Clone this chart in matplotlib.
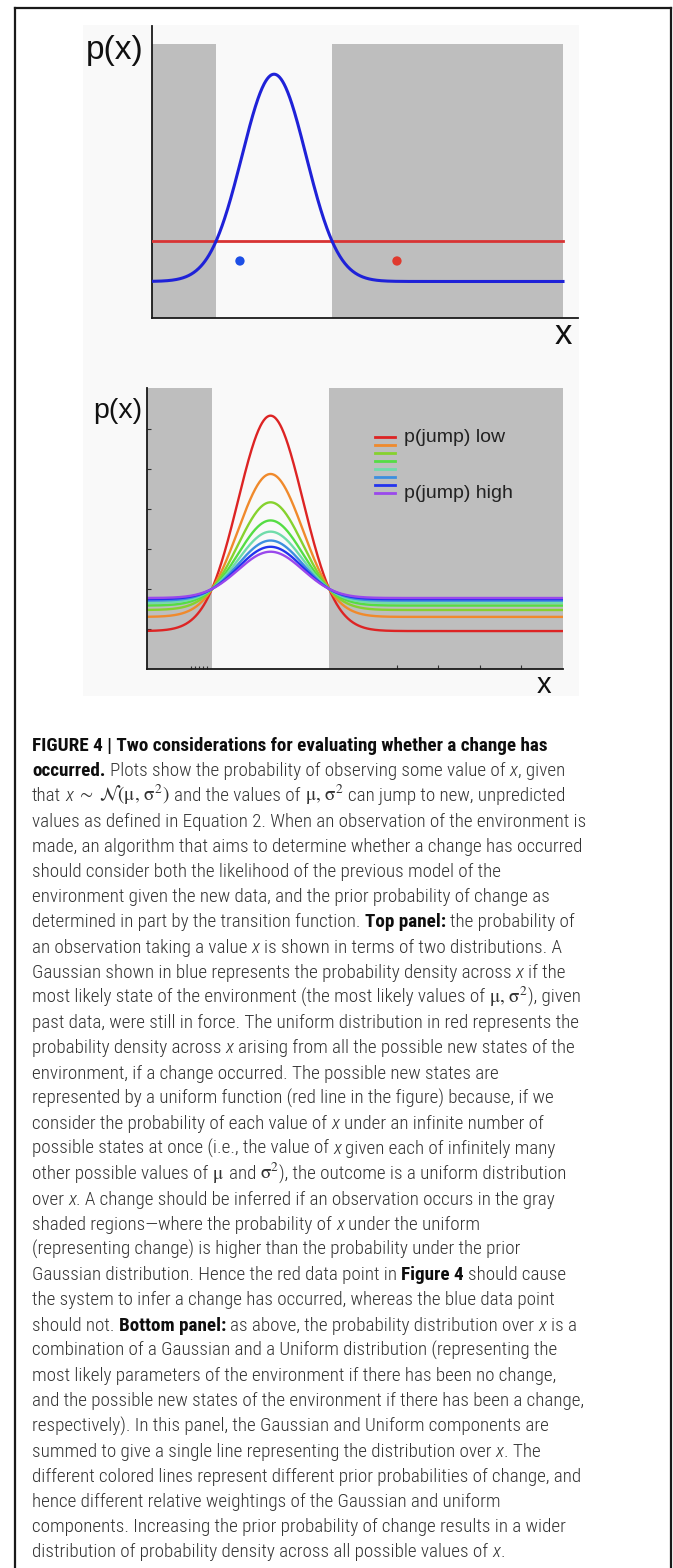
import numpy as np
import matplotlib
matplotlib.use("Agg")
import matplotlib.pyplot as plt
from matplotlib.lines import Line2D
from matplotlib.patches import Rectangle

W, H = 673, 1568

# modelo: gaussiana + uniforme sobre [0, 10]
X_MIN, X_MAX = 0.0, 10.0
MU = 2.97
SIGMA = 0.78
UNIFORME = 0.1

# painel de cima: mistura com peso da uniforme baixo + os dois pontos observados
P_JUMP_TOPO = 0.474
PONTOS_X = [2.14, 5.96]
PONTOS_Y = [0.074, 0.074]
PONTOS_COR = ["#1d4fe6", "#e03a2e"]

# painel de baixo: peso da uniforme (p(jump)) de cada curva
P_JUMP = [0.474, 0.651, 0.737, 0.792, 0.826, 0.853, 0.872, 0.887]
CORES = ["#dd2424", "#f08a2c", "#86d22e", "#55dd44", "#6fdcaa", "#3d8fdf", "#2233ee", "#9a48ec"]
LEGENDA = ["p(jump) low", "", "", "", "", "", "", "p(jump) high"]

CINZA = "#bebebe"
FONTE_EIXO = ["Liberation Sans", "DejaVu Sans"]
FONTE_TEXTO = ["Liberation Sans Narrow", "Roboto Condensed", "Roboto", "DejaVu Sans"]

MU_SIGMA = r"$\mathrm{\mu},\,\mathrm{\sigma}^2$"

LEGENDA_CAPTION = [
    [("FIGURE 4 | Two considerations for evaluating whether a change has", "b")],
    [("occurred.", "b"), (" Plots show the probability of observing some value of ", "n"), ("x", "i"), (", given", "n")],
    [("that ", "n"), ("x", "i"), (r"$\;\sim\;\mathcal{N}(\mathrm{\mu},\,\mathrm{\sigma}^2)$", "m"),
     (" and the values of ", "n"), (MU_SIGMA, "m"), (" can jump to new, unpredicted", "n")],
    [("values as defined in Equation 2. When an observation of the environment is", "n")],
    [("made, an algorithm that aims to determine whether a change has occurred", "n")],
    [("should consider both the likelihood of the previous model of the", "n")],
    [("environment given the new data, and the prior probability of change as", "n")],
    [("determined in part by the transition function. ", "n"), ("Top panel:", "b"), (" the probability of", "n")],
    [("an observation taking a value ", "n"), ("x", "i"), (" is shown in terms of two distributions. A", "n")],
    [("Gaussian shown in blue represents the probability density across ", "n"), ("x", "i"), (" if the", "n")],
    [("most likely state of the environment (the most likely values of ", "n"),
     (MU_SIGMA, "m"), ("), given", "n")],
    [("past data, were still in force. The uniform distribution in red represents the", "n")],
    [("probability density across ", "n"), ("x", "i"), (" arising from all the possible new states of the", "n")],
    [("environment, if a change occurred. The possible new states are", "n")],
    [("represented by a uniform function (red line in the figure) because, if we", "n")],
    [("consider the probability of each value of ", "n"), ("x", "i"), (" under an infinite number of", "n")],
    [("possible states at once (i.e., the value of ", "n"), ("x", "i"), (" given each of infinitely many", "n")],
    [("other possible values of ", "n"), (r"$\mathrm{\mu}$", "m"), (" and ", "n"), (r"$\mathrm{\sigma}^2$", "m"),
     ("), the outcome is a uniform distribution", "n")],
    [("over ", "n"), ("x", "i"), (". A change should be inferred if an observation occurs in the gray", "n")],
    [("shaded regions\u2014where the probability of ", "n"), ("x", "i"), (" under the uniform", "n")],
    [("(representing change) is higher than the probability under the prior", "n")],
    [("Gaussian distribution. Hence the red data point in ", "n"), ("Figure 4", "b"), (" should cause", "n")],
    [("the system to infer a change has occurred, whereas the blue data point", "n")],
    [("should not. ", "n"), ("Bottom panel:", "b"), (" as above, the probability distribution over ", "n"),
     ("x", "i"), (" is a", "n")],
    [("combination of a Gaussian and a Uniform distribution (representing the", "n")],
    [("most likely parameters of the environment if there has been no change,", "n")],
    [("and the possible new states of the environment if there has been a change,", "n")],
    [("respectively). In this panel, the Gaussian and Uniform components are", "n")],
    [("summed to give a single line representing the distribution over ", "n"), ("x", "i"), (". The", "n")],
    [("different colored lines represent different prior probabilities of change, and", "n")],
    [("hence different relative weightings of the Gaussian and uniform", "n")],
    [("components. Increasing the prior probability of change results in a wider", "n")],
    [("distribution of probability density across all possible values of ", "n"), ("x", "i"), (".", "n")],
]

plt.rcParams["mathtext.fontset"] = "stix"


def gauss(x):
    return np.exp(-0.5 * ((x - MU) / SIGMA) ** 2) / (SIGMA * np.sqrt(2 * np.pi))


def mistura(x, p_jump):
    return p_jump * UNIFORME + (1 - p_jump) * gauss(x)


def caixa(px_esq, px_cima, px_dir, px_baixo):
    # converte pixels (origem no topo) para fração da figura
    return [px_esq / W, 1 - px_baixo / H, (px_dir - px_esq) / W, (px_baixo - px_cima) / H]


# regiões cinza: onde a gaussiana fica abaixo da uniforme
meia_largura = SIGMA * np.sqrt(2 * np.log(gauss(MU) / UNIFORME))
corte_esq, corte_dir = MU - meia_largura, MU + meia_largura

fig = plt.figure(figsize=(W / 100, H / 100), dpi=100)
fig.patch.set_facecolor("white")

# moldura da figura e fundo da imagem
for xs, ys in [([15, 15], [8, H + 5]), ([15, 671], [8, 8]), ([671, 671], [8, H + 5])]:
    fig.add_artist(Line2D([x / W for x in xs], [1 - y / H for y in ys], color="#1a1a1a", lw=1.6, zorder=-1))
fig.add_artist(Rectangle((83 / W, 1 - 696 / H), (579 - 83) / W, (696 - 25) / H,
                         transform=fig.transFigure, facecolor="#f9f9f9", edgecolor="none", zorder=-2))

x = np.linspace(X_MIN, X_MAX, 800)

# ---------------- painel de cima ----------------
ax1 = fig.add_axes(caixa(152, 26, 578, 318))
ax1.set_facecolor("none")
ax1.set_xlim(0, 10.365)
ax1.set_ylim(0, 0.379)
topo_cinza = 0.355
ax1.add_patch(Rectangle((X_MIN, 0), corte_esq - X_MIN, topo_cinza, facecolor=CINZA, edgecolor="none", zorder=1))
ax1.add_patch(Rectangle((corte_dir, 0), X_MAX - corte_dir, topo_cinza, facecolor=CINZA, edgecolor="none", zorder=1))
ax1.plot([X_MIN, X_MAX], [UNIFORME, UNIFORME], color="#d83434", lw=2.0, zorder=3)
ax1.plot(x, mistura(x, P_JUMP_TOPO), color="#1f22d8", lw=2.2, zorder=4)
ax1.scatter(PONTOS_X, PONTOS_Y, c=PONTOS_COR, s=45, zorder=5, edgecolors="none")
for lado in ["top", "right"]:
    ax1.spines[lado].set_visible(False)
for lado in ["left", "bottom"]:
    ax1.spines[lado].set_linewidth(1.3)
    ax1.spines[lado].set_color("#1a1a1a")
ax1.set_xticks([])
ax1.set_yticks([])
fig.text(144 / W, 1 - 50 / H, "p(x)", ha="right", va="center", fontsize=24, family=FONTE_EIXO, color="#111")
fig.text(563 / W, 1 - 335 / H, "x", ha="center", va="center", fontsize=25, family=FONTE_EIXO, color="#111")

# ---------------- painel de baixo ----------------
ax2 = fig.add_axes(caixa(147, 388, 563, 669))
ax2.set_facecolor("none")
ax2.set_xlim(X_MIN, X_MAX)
ax2.set_ylim(0, 0.351)
ax2.add_patch(Rectangle((X_MIN, 0), corte_esq - X_MIN, 0.351, facecolor=CINZA, edgecolor="none", zorder=1))
ax2.add_patch(Rectangle((corte_dir, 0), X_MAX - corte_dir, 0.351, facecolor=CINZA, edgecolor="none", zorder=1))
for pj, cor in zip(P_JUMP, CORES):
    ax2.plot(x, mistura(x, pj), color=cor, lw=1.7, zorder=3)
for lado in ["top", "right"]:
    ax2.spines[lado].set_visible(False)
for lado in ["left", "bottom"]:
    ax2.spines[lado].set_linewidth(1.3)
    ax2.spines[lado].set_color("#1a1a1a")
    ax2.spines[lado].set_zorder(6)
ax2.set_yticks([0.05, 0.10, 0.15, 0.20, 0.25, 0.30])
ax2.set_xticks([6, 7, 8, 9])
ax2.set_xticks([1.05, 1.15, 1.25, 1.35, 1.45], minor=True)
ax2.tick_params(direction="in", length=3, width=0.8, colors="#333", labelleft=False, labelbottom=False)
ax2.tick_params(which="minor", direction="in", length=2, width=0.8, colors="#333")

# legenda desenhada à mão (traços curtos empilhados)
for i, (cor, rotulo) in enumerate(zip(CORES, LEGENDA)):
    yy = 1 - (437 + i * 8) / H
    fig.add_artist(Line2D([375 / W, 395 / W], [yy, yy], color=cor, lw=2.0))
    if rotulo:
        fig.text(404 / W, yy, rotulo, ha="left", va="center", fontsize=14, family=FONTE_EIXO, color="#222")

fig.text(142 / W, 1 - 411 / H, "p(x)", ha="right", va="center", fontsize=20.5, family=FONTE_EIXO, color="#111")
fig.text(544 / W, 1 - 685 / H, "x", ha="center", va="center", fontsize=21, family=FONTE_EIXO, color="#111")

# ---------------- legenda da figura (texto) ----------------
renderer = fig.canvas.get_renderer()
ESTILOS = {
    "n": dict(family=FONTE_TEXTO, weight="light", color="#333333"),
    "b": dict(family=FONTE_TEXTO, weight="bold", color="#0e0e0e"),
    "i": dict(family=FONTE_TEXTO, weight="light", style="italic", color="#333333"),
    "m": dict(color="#333333"),
}


def largura(texto, est, tam):
    t = fig.text(0, 0, texto, fontsize=tam, **ESTILOS[est])
    w = t.get_window_extent(renderer).width
    t.remove()
    return w


# ajusta o tamanho da fonte pela largura de uma linha de referência
alvo = 554
tam = 10 * alvo / largura(LEGENDA_CAPTION[3][0][0], "n", 10)
espaco = largura("n n", "n", tam) - largura("nn", "n", tam)

y_base = 751
passo = 25.2
for i, linha in enumerate(LEGENDA_CAPTION):
    yy = 1 - (y_base + i * passo) / H
    xp = 32.0
    for texto, est in linha:
        miolo = texto.strip(" ")
        antes = len(texto) - len(texto.lstrip(" "))
        depois = len(texto) - len(texto.rstrip(" "))
        xp += antes * espaco
        if miolo:
            fig.text(xp / W, yy, miolo, ha="left", va="baseline", fontsize=tam, **ESTILOS[est])
            xp += largura(miolo, est, tam)
        xp += depois * espaco

fig.savefig("out.png", dpi=100)
